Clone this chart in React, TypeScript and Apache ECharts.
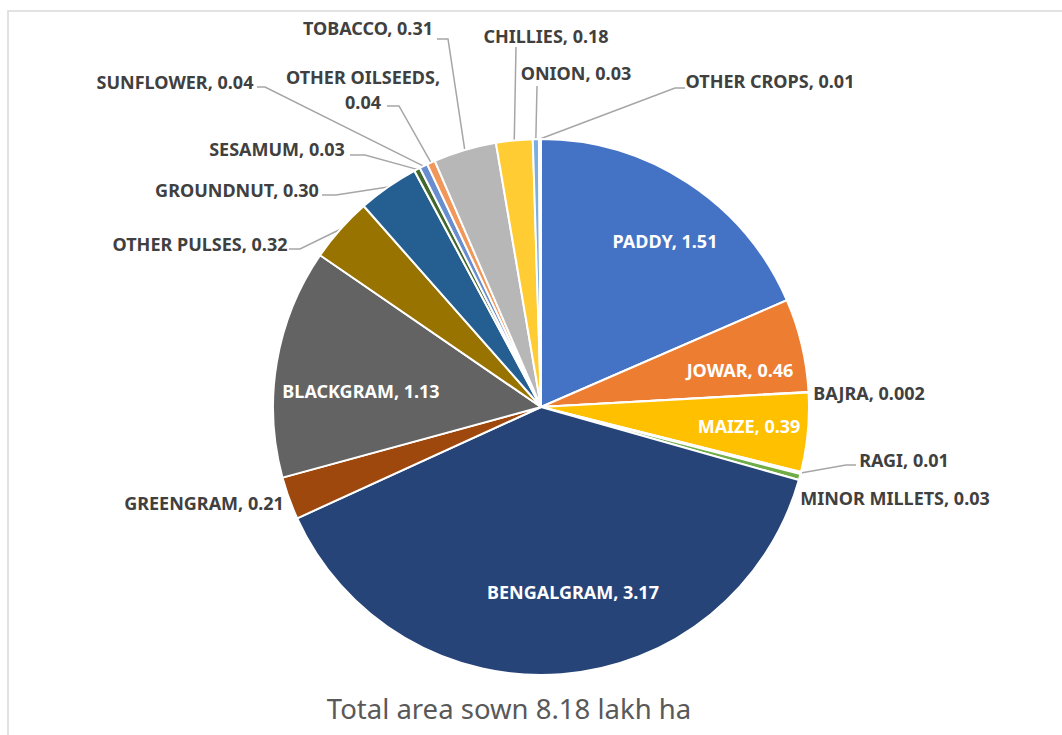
import React, { useEffect, useRef } from "react";
import * as echarts from "echarts";

// ---- data ----
const crops = [
  "PADDY", "JOWAR", "BAJRA", "MAIZE", "RAGI", "MINOR MILLETS", "BENGALGRAM",
  "GREENGRAM", "BLACKGRAM", "OTHER PULSES", "GROUNDNUT", "SESAMUM", "SUNFLOWER",
  "OTHER OILSEEDS", "TOBACCO", "CHILLIES", "ONION", "OTHER CROPS",
];
const areaLakhHa = [
  1.51, 0.46, 0.002, 0.39, 0.01, 0.03, 3.17,
  0.21, 1.13, 0.32, 0.30, 0.03, 0.04,
  0.04, 0.31, 0.18, 0.03, 0.01,
];
const chartTitle = "Total area sown 8.18 lakh ha";

// ---- styles ----
const sliceColors = [
  "#4472C4", "#ED7D31", "#A5A5A5", "#FFC000", "#5B9BD5", "#70AD47", "#264478",
  "#9E480E", "#636363", "#997300", "#255E91", "#43682B", "#698ED0",
  "#F1975A", "#B7B7B7", "#FFCD33", "#7CAFDD", "#8CC168",
];
const insideLabels = new Set(["PADDY", "JOWAR", "MAIZE", "BENGALGRAM", "BLACKGRAM"]);

// label anchor positions (centre of text) and leader-line bends (elbow, end)
const labelPos: Record<string, { x: number; y: number; line?: number[][] }> = {
  PADDY: { x: 665, y: 241 },
  JOWAR: { x: 740, y: 370 },
  BAJRA: { x: 869, y: 393 },
  MAIZE: { x: 749, y: 426 },
  RAGI: { x: 904, y: 460, line: [[846, 465], [856, 465]] },
  "MINOR MILLETS": { x: 895, y: 498 },
  BENGALGRAM: { x: 573, y: 592 },
  GREENGRAM: { x: 204, y: 503 },
  BLACKGRAM: { x: 361, y: 391 },
  "OTHER PULSES": { x: 200, y: 244, line: [[300, 249], [289, 249]] },
  GROUNDNUT: { x: 237, y: 190, line: [[336, 195], [322, 195]] },
  SESAMUM: { x: 277, y: 149, line: [[365, 155], [350, 155]] },
  SUNFLOWER: { x: 175, y: 82, line: [[265, 87], [257, 87]] },
  "OTHER OILSEEDS": { x: 363, y: 89, line: [[399, 106], [387, 106]] },
  TOBACCO: { x: 368, y: 28, line: [[448, 39], [437, 39]] },
  CHILLIES: { x: 546, y: 36, line: [[516, 47]] },
  ONION: { x: 576, y: 73, line: [[537, 86]] },
  "OTHER CROPS": { x: 770, y: 81, line: [[675, 88], [685, 88]] },
};

const CX = 541;
const CY = 407;
const R = 268;

const fmt = (v: number) => (v < 0.01 ? v.toFixed(3) : v.toFixed(2));

export default function App() {
  const ref = useRef<HTMLDivElement>(null);

  useEffect(() => {
    if (!ref.current) return;
    const chart = echarts.init(ref.current, undefined, { renderer: "svg" });

    const total = areaLakhHa.reduce((a, b) => a + b, 0);

    const data = crops.map((name, i) => {
      const inside = insideLabels.has(name);
      const hasLine = !!labelPos[name].line;
      return {
        name,
        value: areaLakhHa[i],
        itemStyle: { color: sliceColors[i] },
        label: {
          position: inside ? "inside" : "outside",
          color: inside ? "#FFFFFF" : "#404040",
        },
        labelLine: { show: hasLine },
      };
    });

    chart.setOption({
      animation: false,
      backgroundColor: "#FFFFFF",
      graphic: [
        {
          type: "rect",
          shape: { x: 8, y: 11, width: 1100, height: 800 },
          style: { fill: "none", stroke: "#D9D9D9", lineWidth: 1.5 },
          silent: true,
          z: -10,
        },
        {
          type: "text",
          x: 509,
          y: 708,
          style: {
            text: chartTitle,
            fill: "#595959",
            font: "27.5px 'Noto Sans', sans-serif",
            align: "center",
            verticalAlign: "middle",
          },
        },
      ],
      series: [
        {
          type: "pie",
          center: [CX, CY],
          radius: R,
          startAngle: 90,
          clockwise: true,
          avoidLabelOverlap: false,
          minShowLabelAngle: 0,
          itemStyle: { borderColor: "#FFFFFF", borderWidth: 2 },
          label: {
            show: true,
            fontFamily: "'Noto Sans', sans-serif",
            fontWeight: "bold",
            fontSize: 18,
            lineHeight: 25,
            formatter: (p: any) =>
              p.name === "OTHER OILSEEDS"
                ? `${p.name},\n${fmt(p.value)}`
                : `${p.name}, ${fmt(p.value)}`,
          },
          labelLine: {
            show: true,
            length: 10,
            length2: 10,
            smooth: false,
            lineStyle: { color: "#A6A6A6", width: 1.5 },
          },
          labelLayout: (params: any) => {
            const name = crops[params.dataIndex];
            const p = labelPos[name];
            const res: any = {
              x: p.x,
              y: p.y,
              align: "center",
              verticalAlign: "middle",
              hideOverlap: false,
              moveOverlap: false,
            };
            if (p.line) {
              let start: number[];
              if (params.labelLinePoints && params.labelLinePoints[0]) {
                start = params.labelLinePoints[0];
              } else {
                let before = 0;
                for (let k = 0; k < params.dataIndex; k++) before += areaLakhHa[k];
                const mid = ((before + areaLakhHa[params.dataIndex] / 2) / total) * Math.PI * 2;
                start = [CX + R * Math.sin(mid), CY - R * Math.cos(mid)];
              }
              const pts = [start, ...p.line];
              if (pts.length === 2) pts.splice(1, 0, p.line[0]);
              res.labelLinePoints = pts;
            }
            return res;
          },
          data,
        },
      ],
    });

    return () => chart.dispose();
  }, []);

  return (
    <div
      ref={ref}
      style={{
        position: "fixed",
        left: 0,
        top: 0,
        width: 1062,
        height: 735,
        background: "#FFFFFF",
      }}
    />
  );
}
